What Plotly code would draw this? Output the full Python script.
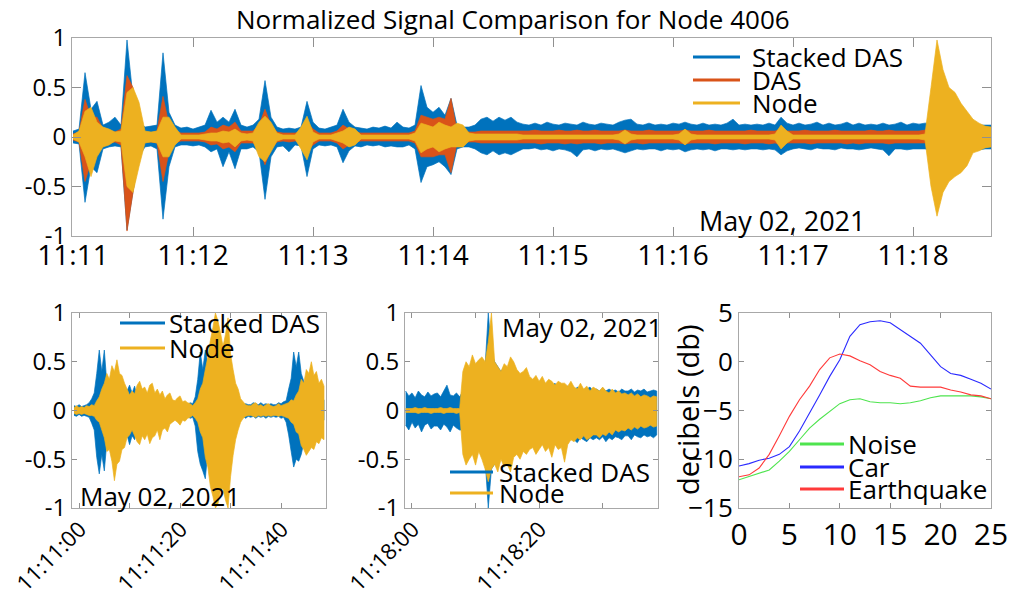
import pandas as pd
import plotly.graph_objects as go

# ---------------- data ----------------
# Top panel: 3-second envelope bins starting 11:11:00 (upper / lower values of each trace)
TOP_START = "2021-05-02 11:11:00"
TOP_STEP = "3s"
top_stacked_up = [
    .06, .08, .65, .28, .36, .12, .15, .20, .12, .98,
    .40, .15, .10, .11, .12, .85, .25, .12, .09, .10,
    .08, .10, .12, .27, .15, .20, .15, .28, .12, .10,
    .12, .18, .57, .20, .10, .08, .09, .08, .10, .36,
    .15, .09, .08, .10, .12, .28, .15, .10, .09, .08,
    .10, .09, .11, .09, .15, .10, .09, .12, .52, .30,
    .25, .30, .22, .39, .12, .10, .10, .12, .18, .20,
    .16, .20, .17, .20, .15, .13, .12, .14, .12, .15,
    .13, .12, .14, .13, .12, .15, .13, .12, .14, .13,
    .12, .15, .17, .18, .13, .12, .14, .12, .13, .12,
    .14, .13, .15, .13, .12, .14, .12, .13, .12, .14,
    .18, .12, .13, .12, .13, .12, .14, .12, .20, .14,
    .12, .14, .12, .13, .15, .12, .14, .12, .13, .15,
    .12, .14, .12, .13, .12, .14, .12, .13, .15, .12,
    .14, .13, .14, .14, .13, .14, .12, .13, .14, .13,
    .13, .12, .12, .12]
top_stacked_lo = [
    -.06, -.07, -.66, -.30, -.36, -.12, -.10, -.09, -.10, -.94,
    -.55, -.20, -.10, -.09, -.12, -.83, -.30, -.10, -.08, -.08,
    -.09, -.08, -.10, -.15, -.12, -.30, -.15, -.32, -.12, -.12,
    -.10, -.15, -.63, -.20, -.10, -.09, -.15, -.08, -.09, -.40,
    -.12, -.08, -.09, -.08, -.10, -.26, -.14, -.09, -.10, -.08,
    -.09, -.08, -.10, -.09, -.10, -.10, -.08, -.12, -.46, -.30,
    -.28, -.25, -.30, -.38, -.12, -.10, -.10, -.12, -.16, -.18,
    -.14, -.18, -.16, -.18, -.15, -.12, -.12, -.11, -.13, -.12,
    -.14, -.12, -.13, -.15, -.20, -.13, -.12, -.14, -.12, -.13,
    -.12, -.14, -.16, -.14, -.12, -.13, -.12, -.12, -.14, -.12,
    -.13, -.12, -.15, -.13, -.12, -.13, -.12, -.14, -.12, -.12,
    -.13, -.12, -.13, -.12, -.12, -.13, -.12, -.13, -.18, -.14,
    -.12, -.11, -.12, -.13, -.11, -.12, -.12, -.13, -.11, -.12,
    -.12, -.13, -.12, -.11, -.12, -.13, -.19, -.12, -.12, -.13,
    -.12, -.12, -.12, -.13, -.12, -.13, -.12, -.12, -.13, -.12,
    -.12, -.13, -.12, -.12]
top_das_up = [
    .03, .05, .38, .20, .20, .08, .06, .05, .08, .62,
    .50, .12, .05, .04, .06, .41, .12, .06, .04, .04,
    .04, .04, .05, .10, .08, .12, .10, .15, .06, .06,
    .06, .12, .28, .12, .05, .04, .04, .04, .05, .15,
    .08, .04, .04, .04, .06, .12, .08, .05, .04, .04,
    .04, .04, .04, .04, .04, .04, .04, .06, .22, .20,
    .18, .20, .18, .39, .06, .05, .05, .05, .06, .06,
    .06, .06, .06, .06, .06, .06, .06, .07, .06, .06,
    .06, .07, .06, .06, .07, .06, .06, .07, .06, .06,
    .06, .06, .07, .06, .06, .06, .07, .06, .06, .06,
    .06, .06, .07, .06, .06, .06, .07, .06, .06, .06,
    .06, .06, .06, .07, .06, .06, .06, .06, .08, .06,
    .06, .06, .07, .06, .06, .06, .06, .07, .06, .06,
    .06, .06, .06, .07, .06, .06, .07, .06, .06, .06,
    .06, .06, .07, .08, .08, .07, .07, .06, .06, .06,
    .06, .06, .06, .06]
top_das_lo = [
    -.03, -.05, -.45, -.25, -.18, -.07, -.06, -.05, -.08, -.95,
    -.56, -.15, -.05, -.05, -.06, -.45, -.15, -.06, -.04, -.04,
    -.04, -.04, -.05, -.08, -.07, -.12, -.10, -.15, -.06, -.06,
    -.06, -.12, -.28, -.12, -.05, -.04, -.05, -.04, -.05, -.15,
    -.08, -.04, -.04, -.04, -.06, -.12, -.08, -.05, -.04, -.04,
    -.04, -.04, -.04, -.04, -.04, -.04, -.04, -.06, -.20, -.20,
    -.20, -.18, -.18, -.36, -.06, -.05, -.05, -.05, -.06, -.06,
    -.06, -.06, -.06, -.06, -.06, -.06, -.06, -.06, -.07, -.06,
    -.06, -.06, -.07, -.06, -.07, -.06, -.06, -.06, -.07, -.06,
    -.06, -.06, -.07, -.06, -.06, -.07, -.06, -.06, -.06, -.06,
    -.06, -.06, -.07, -.06, -.06, -.06, -.06, -.07, -.06, -.06,
    -.06, -.06, -.07, -.06, -.06, -.06, -.07, -.06, -.08, -.06,
    -.06, -.06, -.06, -.07, -.06, -.06, -.06, -.06, -.06, -.07,
    -.06, -.07, -.06, -.06, -.06, -.06, -.07, -.06, -.06, -.06,
    -.06, -.06, -.06, -.08, -.08, -.07, -.06, -.06, -.06, -.06,
    -.06, -.06, -.06, -.06]
top_node_up = [
    .02, .06, .26, .30, .15, .10, .08, .05, .06, .45,
    .50, .35, .06, .05, .06, .20, .20, .10, .02, .02,
    .02, .02, .03, .04, .04, .06, .05, .08, .04, .03,
    .04, .15, .21, .15, .04, .02, .02, .02, .10, .21,
    .05, .02, .02, .02, .04, .06, .10, .08, .02, .02,
    .02, .02, .02, .02, .02, .02, .02, .04, .14, .12,
    .10, .15, .12, .10, .14, .12, .04, .03, .03, .03,
    .03, .03, .03, .03, .03, .02, .02, .02, .02, .02,
    .02, .02, .02, .02, .02, .02, .02, .02, .02, .02,
    .02, .03, .07, .03, .02, .02, .02, .02, .02, .02,
    .02, .03, .08, .03, .02, .02, .02, .02, .02, .02,
    .02, .02, .02, .02, .02, .02, .02, .03, .12, .06,
    .02, .02, .02, .02, .02, .02, .02, .02, .02, .02,
    .02, .02, .02, .02, .02, .02, .02, .02, .02, .02,
    .02, .02, .03, .50, .98, .68, .50, .45, .34, .26,
    .18, .14, .11, .10]
top_node_lo = [
    -.02, -.05, -.20, -.40, -.20, -.10, -.08, -.04, -.05, -.50,
    -.56, -.30, -.06, -.05, -.06, -.20, -.20, -.08, -.02, -.02,
    -.02, -.02, -.03, -.04, -.04, -.06, -.05, -.10, -.04, -.03,
    -.04, -.20, -.25, -.15, -.04, -.02, -.02, -.02, -.12, -.23,
    -.05, -.02, -.02, -.02, -.04, -.06, -.10, -.08, -.02, -.02,
    -.02, -.02, -.02, -.02, -.02, -.02, -.02, -.04, -.16, -.12,
    -.10, -.15, -.12, -.10, -.10, -.10, -.04, -.03, -.03, -.03,
    -.03, -.03, -.03, -.03, -.03, -.02, -.02, -.02, -.02, -.02,
    -.02, -.02, -.02, -.02, -.02, -.02, -.02, -.02, -.02, -.02,
    -.02, -.03, -.07, -.03, -.02, -.02, -.02, -.02, -.02, -.02,
    -.02, -.03, -.08, -.03, -.02, -.02, -.02, -.02, -.02, -.02,
    -.02, -.02, -.02, -.02, -.02, -.02, -.02, -.03, -.12, -.06,
    -.02, -.02, -.02, -.02, -.02, -.02, -.02, -.02, -.02, -.02,
    -.02, -.02, -.02, -.02, -.02, -.02, -.02, -.02, -.02, -.02,
    -.02, -.02, -.03, -.50, -.80, -.56, -.45, -.40, -.36, -.29,
    -.16, -.14, -.11, -.10]
top_ticks = ["11:11", "11:12", "11:13", "11:14", "11:15", "11:16", "11:17", "11:18"]

# Bottom-left panel: 0.5-second bins starting 11:10:59
BL_START = "2021-05-02 11:10:59"
BL_STEP = "500ms"
bl_stacked_up = [
    .05, .04, .06, .04, .05, .06, .08, .12, .18, .38,
    .62, .40, .62, .28, .22, .14, .12, .09, .13, .10,
    .12, .20, .26, .18, .25, .14, .12, .09, .08, .06,
    .08, .06, .07, .06, .09, .06, .07, .06, .08, .06,
    .07, .09, .06, .07, .08, .06, .08, .07, .14, .32,
    .60, .42, .62, .48, .36, .22, .20, .14, .16, .13,
    .15, .13, .15, .11, .10, .07, .09, .06, .07, .06,
    .06, .08, .07, .06, .08, .06, .07, .06, .07, .06,
    .06, .08, .07, .09, .10, .22, .33, .60, .45, .60,
    .38, .30, .18, .15, .10, .12, .10, .12, .09, .11]
bl_stacked_lo = [
    -.05, -.06, -.04, -.06, -.05, -.06, -.07, -.13, -.20, -.48,
    -.65, -.45, -.62, -.32, -.26, -.18, -.15, -.11, -.13, -.11,
    -.15, -.25, -.35, -.26, -.30, -.18, -.15, -.11, -.10, -.07,
    -.08, -.06, -.08, -.06, -.07, -.08, -.06, -.08, -.06, -.07,
    -.07, -.06, -.08, -.06, -.07, -.06, -.08, -.07, -.16, -.42,
    -.55, -.62, -.70, -.42, -.40, -.28, -.26, -.18, -.20, -.16,
    -.18, -.16, -.18, -.13, -.12, -.07, -.09, -.06, -.08, -.06,
    -.07, -.06, -.08, -.06, -.07, -.06, -.08, -.06, -.07, -.06,
    -.07, -.06, -.08, -.07, -.12, -.25, -.42, -.58, -.50, -.52,
    -.45, -.33, -.26, -.16, -.14, -.11, -.13, -.10, -.12, -.10]
bl_node_up = [
    .03, .05, .03, .04, .03, .05, .04, .06, .05, .10,
    .14, .22, .28, .38, .32, .46, .40, .52, .38, .36,
    .28, .22, .16, .20, .17, .26, .30, .22, .24, .18,
    .26, .28, .18, .22, .16, .20, .12, .16, .18, .11,
    .10, .13, .15, .09, .10, .08, .07, .05, .08, .12,
    .22, .28, .42, .55, .72, .85, 1.0, .92, .80, .66,
    .78, .95, .58, .42, .28, .22, .12, .09, .06, .05,
    .05, .07, .08, .05, .06, .04, .06, .07, .05, .04,
    .05, .07, .05, .06, .07, .08, .11, .10, .16, .20,
    .32, .28, .42, .38, .50, .36, .40, .28, .32, .25]
bl_node_lo = [
    -.03, -.04, -.03, -.04, -.03, -.04, -.05, -.05, -.06, -.10,
    -.12, -.20, -.28, -.42, -.40, -.52, -.72, -.55, -.52, -.40,
    -.38, -.28, -.25, -.20, -.26, -.32, -.35, -.26, -.30, -.24,
    -.34, -.28, -.26, -.20, -.30, -.20, -.18, -.22, -.14, -.12,
    -.10, -.12, -.15, -.10, -.11, -.08, -.07, -.05, -.08, -.12,
    -.22, -.28, -.48, -.58, -.78, -.88, -1.0, -.96, -.82, -.80,
    -.92, -1.0, -.68, -.46, -.30, -.20, -.12, -.08, -.06, -.05,
    -.05, -.06, -.07, -.05, -.06, -.05, -.06, -.05, -.06, -.05,
    -.05, -.06, -.05, -.06, -.07, -.08, -.12, -.14, -.22, -.24,
    -.36, -.40, -.46, -.42, -.38, -.40, -.32, -.34, -.28, -.30]
bl_ticks = ["11:11:00", "", "11:11:20", "", "11:11:40"]

# Bottom-middle panel: 0.5-second bins starting 11:17:59
BM_START = "2021-05-02 11:17:59"
BM_STEP = "500ms"
bm_stacked_up = [
    .20, .15, .18, .13, .20, .16, .14, .19, .15, .17,
    .18, .14, .20, .26, .16, .15, .18, .14, .20, .30,
    .30, .35, .30, .35, .40, .45, 1.0, .60, .50, .45,
    .40, .45, .35, .30, .28, .30, .25, .30, .28, .25,
    .25, .28, .25, .22, .25, .22, .25, .28, .22, .25,
    .22, .25, .22, .20, .24, .22, .20, .22, .24, .20,
    .22, .20, .23, .20, .22, .20, .21, .19, .22, .20,
    .20, .22, .19, .21, .20, .22, .19, .20, .21, .20]
bm_stacked_lo = [
    -.15, -.20, -.12, -.18, -.14, -.22, -.15, -.13, -.19, -.16,
    -.16, -.20, -.14, -.17, -.22, -.15, -.18, -.20, -.20, -.35,
    -.35, -.40, -.35, -.40, -.45, -.50, -1.0, -.60, -.55, -.50,
    -.45, -.50, -.45, -.40, -.35, -.40, -.38, -.35, -.40, -.35,
    -.30, -.35, -.30, -.32, -.35, -.30, -.32, -.35, -.30, -.33,
    -.30, -.32, -.28, -.30, -.33, -.28, -.30, -.32, -.28, -.30,
    -.28, -.30, -.27, -.32, -.28, -.30, -.27, -.28, -.30, -.26,
    -.26, -.30, -.25, -.27, -.28, -.25, -.27, -.26, -.28, -.25]
bm_node_up = [
    .02, .02, .02, .03, .02, .02, .03, .02, .02, .02,
    .02, .03, .02, .02, .03, .02, .02, .02, .40, .50,
    .45, .57, .48, .52, .55, .50, .70, 1.0, .50, .45,
    .40, .48, .45, .55, .50, .42, .38, .40, .44, .35,
    .32, .36, .30, .35, .28, .32, .30, .26, .30, .28,
    .28, .25, .30, .24, .22, .28, .22, .25, .20, .24,
    .22, .20, .24, .20, .18, .22, .18, .20, .17, .18,
    .16, .18, .15, .17, .14, .16, .15, .13, .15, .14]
bm_node_lo = [
    -.02, -.02, -.02, -.02, -.03, -.02, -.02, -.02, -.03, -.02,
    -.02, -.02, -.03, -.02, -.02, -.02, -.03, -.02, -.45, -.56,
    -.50, -.45, -.56, -.42, -.50, -.60, -.73, -.60, -.55, -.63,
    -.50, -.58, -.55, -.63, -.48, -.45, -.50, -.42, -.45, -.40,
    -.38, -.45, -.40, -.35, -.42, -.38, -.48, -.35, -.40, -.38,
    -.53, -.35, -.30, -.32, -.28, -.30, -.26, -.30, -.28, -.25,
    -.25, -.28, -.24, -.26, -.22, -.25, -.20, -.22, -.20, -.21,
    -.18, -.20, -.17, -.19, -.16, -.18, -.17, -.15, -.17, -.16]
bm_ticks = ["11:18:00", "", "11:18:20", ""]

# Bottom-right panel: spectra in decibels
freq = list(range(26))
noise_db = [-12.1, -11.75, -11.4, -11.1, -10.2, -9.2, -8.0, -6.8, -5.9, -5.1,
            -4.3, -3.9, -3.8, -4.1, -4.2, -4.2, -4.3, -4.2, -4.0, -3.7,
            -3.5, -3.5, -3.5, -3.5, -3.6, -3.8]
car_db = [-10.7, -10.45, -10.1, -9.9, -9.5, -8.7, -7.1, -5.3, -3.4, -1.5,
          0.2, 2.6, 3.8, 4.1, 4.2, 4.0, 3.3, 2.6, 1.9, 0.7,
          -0.5, -1.2, -1.4, -1.8, -2.2, -2.8]
quake_db = [-11.8, -11.6, -10.9, -9.5, -7.6, -5.6, -3.9, -2.5, -0.8, 0.4,
            0.8, 0.6, 0.1, -0.3, -1.0, -1.4, -1.7, -2.5, -2.6, -2.6,
            -2.6, -2.9, -3.1, -3.4, -3.5, -3.8]

# ---------------- styling ----------------
W, H = 1012, 600
FONT = "Open Sans"
BLUE, ORANGE, YELLOW = "#0072BD", "#D95319", "#EDB120"
NOISE_C, CAR_C, QUAKE_C = "#4ee44e", "#2a2aff", "#ff3a3a"
AXC = "#a8a8a8"


def px(x):
    return x / W


def py(y):
    return 1 - y / H


def tf(size):
    return dict(family=FONT, size=size, color="black")


fig = go.Figure()


def add_band(start, step, up, lo, color, xa, ya):
    """envelope of the trace: upper values forward, lower values backward, filled."""
    t = list(pd.date_range(start, periods=len(up), freq=step))
    fig.add_trace(go.Scatter(x=t + t[::-1], y=list(up) + list(lo)[::-1], mode="lines",
                             fill="toself", fillcolor=color,
                             line=dict(color=color, width=0.7, simplify=False),
                             xaxis=xa, yaxis=ya, showlegend=False, hoverinfo="skip"))


add_band(TOP_START, TOP_STEP, top_stacked_up, top_stacked_lo, BLUE, "x", "y")
add_band(TOP_START, TOP_STEP, top_das_up, top_das_lo, ORANGE, "x", "y")
add_band(TOP_START, TOP_STEP, top_node_up, top_node_lo, YELLOW, "x", "y")
add_band(BL_START, BL_STEP, bl_stacked_up, bl_stacked_lo, BLUE, "x2", "y2")
add_band(BL_START, BL_STEP, bl_node_up, bl_node_lo, YELLOW, "x2", "y2")
add_band(BM_START, BM_STEP, bm_stacked_up, bm_stacked_lo, BLUE, "x3", "y3")
add_band(BM_START, BM_STEP, bm_node_up, bm_node_lo, YELLOW, "x3", "y3")

for vals, c in [(noise_db, NOISE_C), (car_db, CAR_C), (quake_db, QUAKE_C)]:
    fig.add_trace(go.Scatter(x=freq, y=vals, mode="lines", line=dict(color=c, width=1.1),
                             xaxis="x4", yaxis="y4", showlegend=False, hoverinfo="skip"))

base = dict(showline=True, linecolor=AXC, linewidth=1, mirror="ticks", ticks="inside",
            tickcolor="#909090", showgrid=False, zeroline=False, automargin=False)
wave_y = dict(range=[-1, 1], tickvals=[-1, -0.5, 0, 0.5, 1],
              ticktext=["-1", "-0.5", "0", "0.5", "1"], tickfont=tf(24))

bl_tickvals = list(pd.date_range("2021-05-02 11:11:00", periods=len(bl_ticks), freq="10s"))
bm_tickvals = list(pd.date_range("2021-05-02 11:18:00", periods=len(bm_ticks), freq="10s"))

fig.update_layout(
    width=W, height=H, margin=dict(l=0, r=0, t=0, b=0, autoexpand=False),
    paper_bgcolor="white", plot_bgcolor="white", hovermode=False,
    xaxis=dict(domain=[px(72), px(991)], anchor="y", type="date",
               range=["2021-05-02 11:10:59.5", "2021-05-02 11:18:39"],
               tickvals=list(pd.date_range("2021-05-02 11:11", periods=len(top_ticks), freq="1min")),
               ticktext=top_ticks, ticklen=9, tickfont=tf(28), ticklabelstandoff=-6, **base),
    yaxis=dict(domain=[py(236), py(38)], anchor="x", ticklen=9, **wave_y, **base),
    xaxis2=dict(domain=[px(72), px(326)], anchor="y2", type="date",
                range=["2021-05-02 11:10:58.6", "2021-05-02 11:11:48.9"],
                tickvals=bl_tickvals, showticklabels=False, ticklen=5, **base),
    yaxis2=dict(domain=[py(508), py(313)], anchor="x2", ticklen=5, **wave_y, **base),
    xaxis3=dict(domain=[px(405), px(658)], anchor="y3", type="date",
                range=["2021-05-02 11:17:58.9", "2021-05-02 11:18:38.7"],
                tickvals=bm_tickvals, showticklabels=False, ticklen=5, **base),
    yaxis3=dict(domain=[py(508), py(313)], anchor="x3", ticklen=5, **wave_y, **base),
    xaxis4=dict(domain=[px(739), px(991)], anchor="y4", range=[0, 25], dtick=5, ticklen=5,
                tickfont=tf(30), **base),
    yaxis4=dict(domain=[py(508), py(313)], anchor="x4", range=[-15, 5], dtick=5, ticklen=5,
                tickfont=tf(26), **base),
)

shapes, annots = [], []

# rotated time tick labels of the two lower waveform panels (end of the text at its tick)
for xref, vals, labels in [("x2", bl_tickvals, bl_ticks), ("x3", bm_tickvals, bm_ticks)]:
    for v, lab in zip(vals, labels):
        if lab:
            annots.append(dict(xref=xref, yref="paper", x=v, y=py(511), text=lab,
                               showarrow=False, textangle=-45, xanchor="right", yanchor="top",
                               xshift=16, font=tf(22)))


def legend(x0, x1, xt, rows, size=26, lw=3):
    for y, c, label in rows:
        shapes.append(dict(type="line", xref="paper", yref="paper", x0=px(x0), x1=px(x1),
                           y0=py(y), y1=py(y), line=dict(color=c, width=lw)))
        annots.append(dict(xref="paper", yref="paper", x=px(xt), y=py(y), text=label,
                           showarrow=False, xanchor="left", yanchor="middle",
                           font=tf(size)))


def text(x, y, s, size=26, xanchor="center", angle=0):
    annots.append(dict(xref="paper", yref="paper", x=px(x), y=py(y), text=s, showarrow=False,
                       xanchor=xanchor, yanchor="middle", textangle=angle, font=tf(size)))


legend(693, 740, 750, [(57, BLUE, "Stacked DAS"), (80, ORANGE, "DAS"), (103, YELLOW, "Node")])
legend(120, 165, 167, [(323, BLUE, "Stacked DAS"), (348, YELLOW, "Node")])
legend(450, 493, 497, [(472, BLUE, "Stacked DAS"), (493, YELLOW, "Node")])
legend(800, 844, 846, [(444, NOISE_C, "Noise"), (467, CAR_C, "Car"), (489, QUAKE_C, "Earthquake")])

text(513, 19, "Normalized Signal Comparison for Node 4006", size=26)
text(782, 220, "May 02, 2021", size=27)
text(78, 496, "May 02, 2021", xanchor="left")
text(500, 327, "May 02, 2021", xanchor="left")
text(687, 410, "decibels (db)", size=29, angle=-90)

fig.update_layout(shapes=shapes, annotations=annots)
fig.write_html("out.html")
